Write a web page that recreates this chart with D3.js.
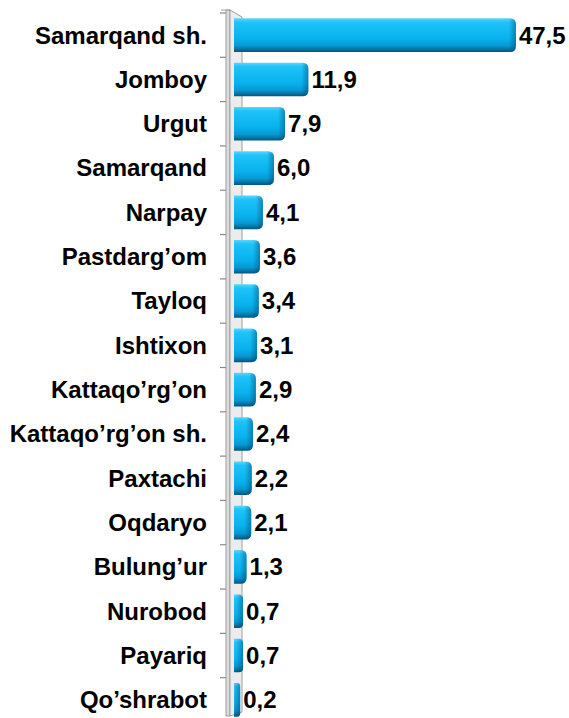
<!DOCTYPE html>
<html lang="en">
<head>
    <meta charset="UTF-8">
    <title>Samarqand</title>
    <style>
        body { margin: 0; background: #fff; }
        svg { display: block; }
        text { font-family: "Liberation Sans", Arial, sans-serif; font-weight: bold; fill: #000; }
    </style>
</head>
<body>
<svg width="569" height="718"></svg>
<script src="https://cdn.jsdelivr.net/npm/d3@7"></script>
<script>
    // districts, top to bottom
    const categories = ["Samarqand sh.", "Jomboy", "Urgut", "Samarqand", "Narpay", "Pastdarg\u2019om",
        "Tayloq", "Ishtixon", "Kattaqo\u2019rg\u2019on", "Kattaqo\u2019rg\u2019on sh.", "Paxtachi",
        "Oqdaryo", "Bulung\u2019ur", "Nurobod", "Payariq", "Qo\u2019shrabot"];
    const values = [47.5, 11.9, 7.9, 6.0, 4.1, 3.6, 3.4, 3.1, 2.9, 2.4, 2.2, 2.1, 1.3, 0.7, 0.7, 0.2];
    const valueLabels = ["47,5", "11,9", "7,9", "6,0", "4,1", "3,6", "3,4", "3,1", "2,9", "2,4",
        "2,2", "2,1", "1,3", "0,7", "0,7", "0,2"];

    const data = categories.map((c, i) => ({name: c, value: values[i], label: valueLabels[i]}));

    var svg = d3.select("svg");

    const wallTop = 10, wallBottom = 716;
    const barStart = 234;

    var y = d3.scaleBand()
        .domain(categories)
        .range([13, 722])
        .paddingInner(0.24)
        .paddingOuter(0.12);

    var x = d3.scaleLinear()
        .domain([0, 50])
        .range([239, 239 + 5.83 * 50]);

    var defs = svg.append("defs");
    var grad = defs.append("linearGradient")
        .attr("id", "barGrad")
        .attr("x1", 0).attr("y1", 0).attr("x2", 0).attr("y2", 1);
    grad.append("stop").attr("offset", "0%").attr("stop-color", "#5ad6ff");
    grad.append("stop").attr("offset", "12%").attr("stop-color", "#1ec3f8");
    grad.append("stop").attr("offset", "60%").attr("stop-color", "#08b2ee");
    grad.append("stop").attr("offset", "82%").attr("stop-color", "#0798d2");
    grad.append("stop").attr("offset", "100%").attr("stop-color", "#04567e");

    var capGrad = defs.append("linearGradient")
        .attr("id", "capGrad")
        .attr("x1", 0).attr("y1", 0).attr("x2", 1).attr("y2", 0);
    capGrad.append("stop").attr("offset", "0%").attr("stop-color", "#003c64").attr("stop-opacity", 0);
    capGrad.append("stop").attr("offset", "100%").attr("stop-color", "#003c64").attr("stop-opacity", 0.45);

    // 3d wall
    svg.append("rect")
        .attr("x", 226).attr("y", wallTop)
        .attr("width", 4).attr("height", wallBottom - wallTop)
        .attr("fill", "#dcdcdc")
        .attr("stroke", "#a0a0a0")
        .attr("stroke-width", 1);
    svg.append("path")
        .attr("d", `M230,${wallTop} L242,${wallTop + 7} L242,${wallBottom - 4} L230,${wallBottom} Z`)
        .attr("fill", "#ececec")
        .attr("stroke", "#a0a0a0")
        .attr("stroke-width", 1);
    svg.append("line")
        .attr("x1", 221).attr("x2", 230)
        .attr("y1", wallTop).attr("y2", wallTop)
        .attr("stroke", "#a0a0a0");

    // ticks between bands
    const ticks = categories.map(c => y(c) - y.step() * y.paddingInner() / 2);
    ticks.push(y(categories[categories.length - 1]) + y.bandwidth() + y.step() * y.paddingInner() / 2);
    svg.append("g").selectAll("line")
        .data(ticks.filter(t => t <= wallBottom))
        .join("line")
        .attr("x1", 220).attr("x2", 226)
        .attr("y1", d => d).attr("y2", d => d)
        .attr("stroke", "#8a8a8a")
        .attr("stroke-width", 1.2);

    function roundedEnd(x0, x1, y0, h, r) {
        return `M${x0},${y0} L${x1 - r},${y0} Q${x1},${y0} ${x1},${y0 + r} L${x1},${y0 + h - r} Q${x1},${y0 + h} ${x1 - r},${y0 + h} L${x0},${y0 + h} Z`;
    }

    var bars = svg.append("g");
    bars.selectAll("path.bar")
        .data(data)
        .join("path")
        .attr("class", "bar")
        .attr("d", d => roundedEnd(barStart, x(d.value), y(d.name), y.bandwidth(), Math.min(6, (x(d.value) - barStart) / 2)))
        .attr("fill", "url(#barGrad)");

    // darker cap at bar end
    bars.selectAll("path.cap")
        .data(data)
        .join("path")
        .attr("class", "cap")
        .attr("d", d => roundedEnd(Math.max(barStart, x(d.value) - 7), x(d.value), y(d.name), y.bandwidth(), Math.min(6, (x(d.value) - barStart) / 2)))
        .attr("fill", "url(#capGrad)");

    // category labels
    svg.append("g").selectAll("text")
        .data(data)
        .join("text")
        .attr("x", 207)
        .attr("y", d => y(d.name) + y.bandwidth() / 2)
        .attr("dy", "0.35em")
        .attr("text-anchor", "end")
        .style("font-size", "24px")
        .text(d => d.name);

    // value labels
    svg.append("g").selectAll("text")
        .data(data)
        .join("text")
        .attr("x", d => x(d.value) + 3)
        .attr("y", d => y(d.name) + y.bandwidth() / 2)
        .attr("dy", "0.35em")
        .style("font-size", "24px")
        .text(d => d.label);
</script>
</body>
</html>
